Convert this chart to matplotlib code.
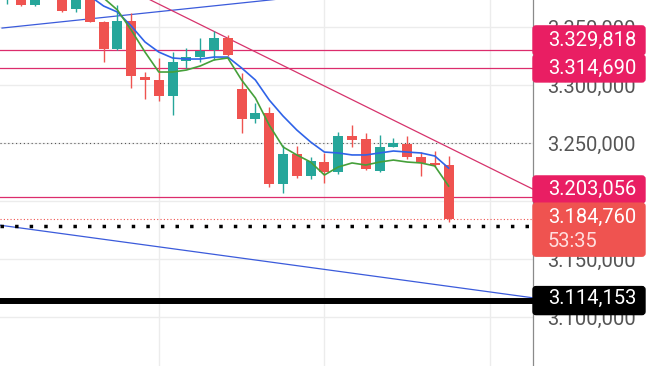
import numpy as np
import matplotlib.pyplot as plt
from matplotlib.patches import FancyBboxPatch
from matplotlib.transforms import IdentityTransform

# Kerzen (OHLC), von links nach rechts
eroeffnung = [3377.6, 3381.9, 3369.0, 3383.6, 3380.2, 3365.5, 3381.9, 3354.3, 3331.0, 3355.2,
              3306.9, 3304.3, 3290.5, 3320.7, 3324.1, 3330.2, 3340.5, 3296.6, 3270.7, 3275.9,
              3214.7, 3240.5, 3221.6, 3233.6, 3225.0, 3256.0, 3253.4, 3225.9, 3246.6, 3249.1,
              3237.9, 3232.8, 3231.0]
hoch = [3390.5, 3386.2, 3383.6, 3386.0, 3384.0, 3382.0, 3385.0, 3354.8, 3369.0, 3362.1,
        3311.2, 3323.3, 3328.4, 3331.9, 3340.5, 3346.6, 3343.1, 3310.3, 3284.5, 3281.0,
        3248.3, 3247.4, 3237.9, 3241.4, 3259.5, 3265.5, 3258.6, 3256.9, 3254.3, 3256.0,
        3242.2, 3243.1, 3238.8]
tief = [3369.8, 3368.5, 3368.5, 3374.9, 3363.0, 3362.9, 3354.0, 3319.8, 3330.5, 3297.4,
        3287.9, 3286.2, 3274.1, 3314.7, 3319.8, 3321.6, 3325.0, 3258.6, 3267.2, 3212.1,
        3206.9, 3219.8, 3219.0, 3215.5, 3223.3, 3246.6, 3226.7, 3225.0, 3246.6, 3236.2,
        3221.6, 3229.3, 3181.9]
schluss = [3386.2, 3369.0, 3380.2, 3376.7, 3363.8, 3378.4, 3354.3, 3331.0, 3355.2, 3307.8,
           3304.3, 3290.5, 3319.8, 3324.1, 3329.3, 3340.5, 3325.9, 3270.7, 3275.9, 3214.7,
           3240.5, 3221.6, 3234.5, 3225.0, 3256.0, 3252.6, 3227.6, 3246.6, 3250.0, 3237.9,
           3232.8, 3231.0, 3184.76]

# gleitende Durchschnitte, ab Kerze 6 bzw. 7
ma_blau = [3376.7, 3368.1, 3362.9, 3350.9, 3337.1, 3328.4, 3323.3, 3322.4, 3322.4, 3324.1,
           3324.1, 3314.7, 3304.3, 3287.1, 3273.3, 3261.2, 3250.9, 3242.2, 3241.4, 3239.7,
           3239.7, 3241.4, 3243.1, 3242.2, 3241.4, 3238.8, 3228.4]
ma_gruen = [3375.0, 3364.7, 3347.4, 3328.4, 3311.2, 3311.2, 3312.9, 3316.4, 3321.6, 3323.3,
            3304.3, 3288.8, 3265.5, 3246.6, 3239.7, 3233.6, 3222.4, 3229.3, 3232.8, 3231.0,
            3233.6, 3235.3, 3233.6, 3232.8, 3230.2, 3212.9]

# Trendlinien (Kerzenindex, Preis)
trend_auf_x, trend_auf_y = [-0.36, 25], [3349.1, 3380.7]
trend_ab_x, trend_ab_y = [8, 40], [3387.4, 3199.1]
trend_blau_x, trend_blau_y = [-0.6, 38.2], [3179.3, 3116.4]

# horizontale Linien
pink_linien = [3329.818, 3314.690, 3203.056]
aktueller_preis = 3184.760
schwarz_gepunktet = 3178.5
schwarz_linie = 3114.153
grau_gepunktet = 3250.0

y_ticks = [3100, 3150, 3200, 3250, 3300, 3350]
x_gitter = [11, 23, 35]

ROT = '#ef5350'
GRUEN = '#26a69a'
PINK = '#e91e63'
W_PX, H_PX = 654, 366
SCHRIFT = 14.5


def preis_format(v):
    s = f"{v:,.3f}"
    return s.replace(',', '#').replace('.', ',').replace('#', '.')


plt.rcParams['font.family'] = ['Roboto', 'DejaVu Sans']

fig = plt.figure(figsize=(W_PX / 100, H_PX / 100), dpi=100)
ax = fig.add_axes([0, 0, 533 / W_PX, 1])
ax.set_xlim(-0.507, 38.116)
ax.set_ylim(3057.76, 3373.28)

# Gitter
ax.set_yticks(y_ticks)
ax.set_yticklabels([preis_format(t) for t in y_ticks])
ax.set_xticks(x_gitter)
ax.grid(True, color='#ececec', lw=1, zorder=0)
ax.set_axisbelow(True)
ax.yaxis.tick_right()
ax.tick_params(axis='y', length=0, pad=10.5, labelsize=SCHRIFT, labelcolor='#555555')
ax.tick_params(axis='x', length=0, labelbottom=False)
for s in ['top', 'left', 'bottom']:
    ax.spines[s].set_visible(False)
ax.spines['right'].set_color('#8a8a8a')
ax.spines['right'].set_linewidth(0.9)
fig.text(548 / W_PX, ax.transData.transform((0, 3050))[1] / H_PX, preis_format(3050),
         va='center_baseline', ha='left', fontsize=SCHRIFT, color='#555555')

# Linien
ax.axhline(grau_gepunktet, color='#555555', lw=0.8, ls=(0, (1, 2.5)), zorder=1)
for p in pink_linien:
    ax.axhline(p, color='#dc2c6c', lw=0.9, zorder=2)
ax.axhline(aktueller_preis, color=ROT, lw=0.8, ls=(0, (1, 2)), zorder=2)
ax.axhline(schwarz_gepunktet, color='black', lw=2.5, ls=(0, (1, 3.2)),
           dash_capstyle='butt', zorder=3)
ax.axhline(schwarz_linie, color='black', lw=4.3, zorder=3)
ax.plot(trend_auf_x, trend_auf_y, color='#3b5bdb', lw=0.9, zorder=2)
ax.plot(trend_blau_x, trend_blau_y, color='#3b5bdb', lw=0.9, zorder=2)
ax.plot(trend_ab_x, trend_ab_y, color='#d6336c', lw=0.9, zorder=2)

# Kerzen
idx = np.arange(len(eroeffnung))
for i in idx:
    o, h, l, c = eroeffnung[i], hoch[i], tief[i], schluss[i]
    farbe = GRUEN if c >= o else ROT
    ax.vlines(i, l, h, color=farbe, lw=1, zorder=4)
    ax.bar(i, max(abs(c - o), 0.8), bottom=min(o, c), width=0.72, color=farbe, zorder=5)

ax.plot(idx[6:], ma_blau, color='#2f63e8', lw=1.2, zorder=6)
ax.plot(idx[7:], ma_gruen, color='#45a03a', lw=1.2, zorder=6)


# Preisschilder rechts
def preis_y(p):
    return ax.transData.transform((0, p))[1]


def schild(y_mitte, hoehe, farbe):
    box = FancyBboxPatch((533, y_mitte - hoehe / 2), 112, hoehe,
                         boxstyle='round,pad=0,rounding_size=3',
                         transform=IdentityTransform(), color=farbe, zorder=5)
    fig.patches.append(box)


def schild_text(y_mitte, text, farbe='white'):
    fig.text(548 / W_PX, y_mitte / H_PX, text, va='center', ha='left',
             fontsize=SCHRIFT, color=farbe, zorder=6)


y = preis_y(3329.818) + 10
schild(y, 29, PINK)
schild_text(y, preis_format(3329.818))
y = preis_y(3314.690) - 0.5
schild(y, 27, PINK)
schild_text(y, preis_format(3314.690))
y = preis_y(3203.056) + 8
schild(y, 27, PINK)
schild_text(y, preis_format(3203.056))
y = preis_y(aktueller_preis)
schild(y - 11, 53, ROT)
schild_text(y + 1.5, preis_format(aktueller_preis))
schild_text(y - 22.5, '53:35', '#ffdede')
y = preis_y(schwarz_linie)
schild(y, 28, 'black')
schild_text(y + 2, preis_format(schwarz_linie))

fig.savefig('out.png', dpi=100)
